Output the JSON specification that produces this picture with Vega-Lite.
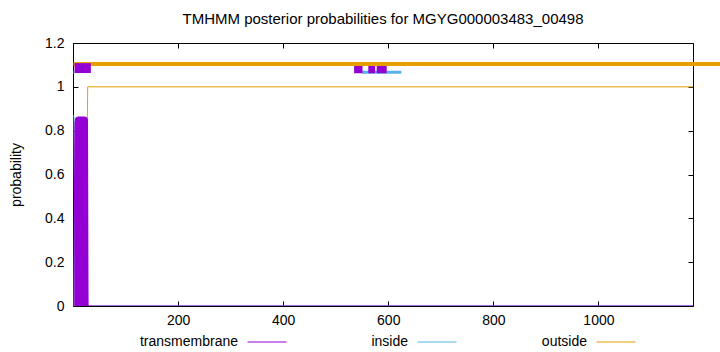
{
  "$schema": "https://vega.github.io/schema/vega-lite/v6.json",
  "width": 620,
  "height": 263,
  "autosize": {"type": "none"},
  "padding": {"left": 73, "top": 43, "right": 27, "bottom": 46},
  "background": "white",
  "config": {
    "font": "Liberation Sans",
    "view": {"stroke": "#000", "strokeWidth": 1},
    "axis": {
      "grid": false, "domain": false,
      "labelFont": "Liberation Sans", "labelFontSize": 14, "labelColor": "#000",
      "tickColor": "#000", "tickSize": -5, "tickWidth": 1,
      "titleFont": "Liberation Sans", "titleFontSize": 14, "titleFontWeight": "normal", "titleColor": "#000"
    }
  },
  "title": {
    "text": "TMHMM posterior probabilities for MGYG000003483_00498",
    "font": "Liberation Sans", "fontSize": 15, "fontWeight": "normal", "color": "#000",
    "anchor": "middle", "offset": 9
  },
  "datasets": {
    "post": [
      {"pos": 1, "p": 0.87, "series": "inside"},
      {"pos": 2, "p": 0.86, "series": "inside"},
      {"pos": 3, "p": 0.3, "series": "inside"},
      {"pos": 4, "p": 0.0, "series": "inside"},
      {"pos": 1180, "p": 0.0, "series": "inside"},
      {"pos": 1, "p": 0.13, "series": "outside"},
      {"pos": 22, "p": 0.13, "series": "outside"},
      {"pos": 23, "p": 0.35, "series": "outside"},
      {"pos": 26, "p": 0.6, "series": "outside"},
      {"pos": 28, "p": 1.0, "series": "outside"},
      {"pos": 1180, "p": 1.0, "series": "outside"},
      {"pos": 1, "p": 0.0, "series": "transmembrane"},
      {"pos": 4, "p": 0.84, "series": "transmembrane"},
      {"pos": 20, "p": 0.86, "series": "transmembrane"},
      {"pos": 23, "p": 0.6, "series": "transmembrane"},
      {"pos": 26, "p": 0.38, "series": "transmembrane"},
      {"pos": 28, "p": 0.0, "series": "transmembrane"},
      {"pos": 1180, "p": 0.0, "series": "transmembrane"}
    ],
    "tmthick": [
      {"pos": 10, "p": 0.0},
      {"pos": 11, "p": 0.846},
      {"pos": 21, "p": 0.846},
      {"pos": 22, "p": 0.0}
    ],
    "topo_out": [{"start": 1, "end": 1235}],
    "topo_in": [{"start": 1, "end": 3}, {"start": 550, "end": 625}],
    "topo_tm1": [{"start": 3, "end": 34}],
    "topo_tm2": [{"start": 535, "end": 551}, {"start": 562, "end": 575}, {"start": 578, "end": 597}]
  },
  "resolve": {"axis": {"x": "independent", "y": "independent"}},
  "layer": [
    {
      "data": {"name": "post"},
      "mark": {"type": "line", "strokeWidth": 1, "clip": true},
      "encoding": {
        "x": {"field": "pos", "type": "quantitative",
              "scale": {"domain": [0, 1180], "nice": false, "zero": false},
              "axis": {"values": [200, 400, 600, 800, 1000], "format": "d", "title": null, "labelPadding": 12}},
        "y": {"field": "p", "type": "quantitative",
              "scale": {"domain": [0, 1.2], "nice": false},
              "axis": {"values": [0, 0.2, 0.4, 0.6, 0.8, 1, 1.2], "format": "~g", "title": "probability", "labelPadding": 14, "titlePadding": 21}},
        "color": {"field": "series", "type": "nominal",
                  "scale": {"domain": ["transmembrane", "inside", "outside"], "range": ["#9400D3", "#56B4E9", "#E69F00"]},
                  "legend": {
                    "orient": "none", "legendX": 174, "legendY": 279, "direction": "horizontal", "title": null,
                    "symbolType": "stroke", "symbolSize": 1521, "symbolStrokeWidth": 1,
                    "labelAlign": "right", "labelOffset": -49, "columnPadding": 82,
                    "labelFont": "Liberation Sans", "labelFontSize": 14, "labelColor": "#000"
                  }}
      }
    },
    {
      "data": {"name": "tmthick"},
      "mark": {"type": "line", "strokeWidth": 8, "color": "#9400D3", "clip": true, "strokeJoin": "round"},
      "encoding": {
        "x": {"field": "pos", "type": "quantitative",
              "axis": {"orient": "top", "values": [200, 400, 600, 800, 1000], "labels": false, "title": null}},
        "y": {"field": "p", "type": "quantitative",
              "axis": {"orient": "right", "values": [0, 0.2, 0.4, 0.6, 0.8, 1, 1.2], "labels": false, "title": null}}
      }
    },
    {
      "data": {"name": "topo_out"},
      "mark": {"type": "rule", "strokeWidth": 4, "color": "#E69F00"},
      "encoding": {
        "x": {"field": "start", "type": "quantitative", "axis": null},
        "x2": {"field": "end"},
        "y": {"datum": 1.104, "type": "quantitative", "axis": null}
      }
    },
    {
      "data": {"name": "topo_in"},
      "mark": {"type": "rule", "strokeWidth": 3, "color": "#56B4E9"},
      "encoding": {
        "x": {"field": "start", "type": "quantitative", "axis": null},
        "x2": {"field": "end"},
        "y": {"datum": 1.067, "type": "quantitative", "axis": null}
      }
    },
    {
      "data": {"name": "topo_tm1"},
      "mark": {"type": "rect", "color": "#9400D3"},
      "encoding": {
        "x": {"field": "start", "type": "quantitative", "axis": null},
        "x2": {"field": "end"},
        "y": {"datum": 1.063, "type": "quantitative", "axis": null},
        "y2": {"datum": 1.108}
      }
    },
    {
      "data": {"name": "topo_tm2"},
      "mark": {"type": "rect", "color": "#9400D3"},
      "encoding": {
        "x": {"field": "start", "type": "quantitative", "axis": null},
        "x2": {"field": "end"},
        "y": {"datum": 1.062, "type": "quantitative", "axis": null},
        "y2": {"datum": 1.095}
      }
    }
  ]
}
